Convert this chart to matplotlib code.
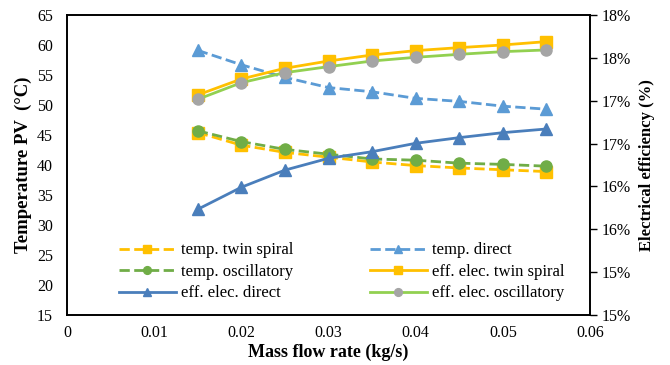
import numpy as np
import matplotlib.pyplot as plt
from matplotlib.ticker import FuncFormatter

plt.rcParams['font.family'] = ['Liberation Serif', 'DejaVu Serif']

caudal = [0.015, 0.02, 0.025, 0.03, 0.035, 0.04, 0.045, 0.05, 0.055]

# temperaturas (eje izquierdo, °C)
temp_twin = [45.4, 43.3, 42.1, 41.3, 40.5, 39.9, 39.5, 39.2, 38.9]
temp_osc = [45.7, 43.9, 42.6, 41.8, 41.0, 40.8, 40.3, 40.1, 39.8]
temp_direct = [59.1, 56.7, 54.6, 52.9, 52.2, 51.1, 50.6, 49.8, 49.3]

# eficiencia electrica (eje derecho, fraccion)
eff_twin = [0.17067, 0.17253, 0.17378, 0.17463, 0.17533, 0.17584, 0.17619, 0.1765, 0.17689]
eff_osc = [0.17016, 0.1721, 0.17327, 0.17397, 0.17463, 0.17506, 0.17541, 0.17572, 0.17592]
eff_direct = [0.15733, 0.1599, 0.1619, 0.16328, 0.16405, 0.16503, 0.16569, 0.16627, 0.1667]

naranja = '#FFC000'
verde = '#70AD47'
verde_claro = '#92D050'
gris = '#A5A5A5'
azul_claro = '#5B9BD5'
azul = '#4A7EBB'

fig = plt.figure(figsize=(6.7, 3.65), dpi=100)
ax = fig.add_axes([0.1, 0.137, 0.7806, 0.822])
ax2 = ax.twinx()

ms = 8
l1, = ax.plot(caudal, temp_twin, '--', color=naranja, lw=2, marker='s', ms=ms,
              label='temp. twin spiral')
l2, = ax.plot(caudal, temp_osc, '--', color=verde, lw=2, marker='o', ms=ms,
              label='temp. oscillatory')
l4, = ax.plot(caudal, temp_direct, '--', color=azul_claro, lw=2, marker='^', ms=ms,
              label='temp. direct')
l3, = ax2.plot(caudal, eff_direct, '-', color=azul, lw=2, marker='^', ms=ms,
               label='eff. elec. direct')
l5, = ax2.plot(caudal, eff_twin, '-', color=naranja, lw=2, marker='s', ms=ms,
               label='eff. elec. twin spiral')
l6, = ax2.plot(caudal, eff_osc, '-', color=verde_claro, lw=2, marker='o', ms=ms,
               mfc=gris, mec=gris, label='eff. elec. oscillatory')

ax.set_xlim(0, 0.06)
ax.set_ylim(15, 65)
ax.set_xticks(np.arange(0, 0.061, 0.01))
ax.set_xticklabels(['0', '0.01', '0.02', '0.03', '0.04', '0.05', '0.06'])
ax.set_yticks(np.arange(15, 66, 5))
ax.tick_params(axis='x', length=0, labelsize=11.5, pad=7)
ax.tick_params(axis='y', length=0, labelsize=11.5, pad=10)

ax2.set_ylim(0.145, 0.18)
ax2.set_yticks(np.arange(0.145, 0.1801, 0.005))
ax2.yaxis.set_major_formatter(FuncFormatter(lambda v, p: f'{int(np.floor(v * 100 + 0.5 + 1e-9))}%'))
ax2.tick_params(axis='y', length=5, width=1, labelsize=11.5, direction='out')

for a in (ax, ax2):
    for s in a.spines.values():
        s.set_color('black')
        s.set_linewidth(1.2)

ax.set_xlabel('Mass flow rate (kg/s)', fontsize=13, fontweight='bold', labelpad=2)
ax.set_ylabel('Temperature PV  (°C)', fontsize=13.5, fontweight='bold', labelpad=4)
ax2.set_ylabel('Electrical efficiency (%)', fontsize=12, fontweight='bold', labelpad=6)

ax2.legend(handles=[l1, l2, l3, l4, l5, l6], ncol=2, frameon=False,
           loc='lower center', bbox_to_anchor=(0.525, -0.005), fontsize=12,
           handlelength=3.4, handletextpad=0.3, columnspacing=4.6,
           labelspacing=0.33, markerscale=0.7)

fig.savefig('out.png', dpi=100)
